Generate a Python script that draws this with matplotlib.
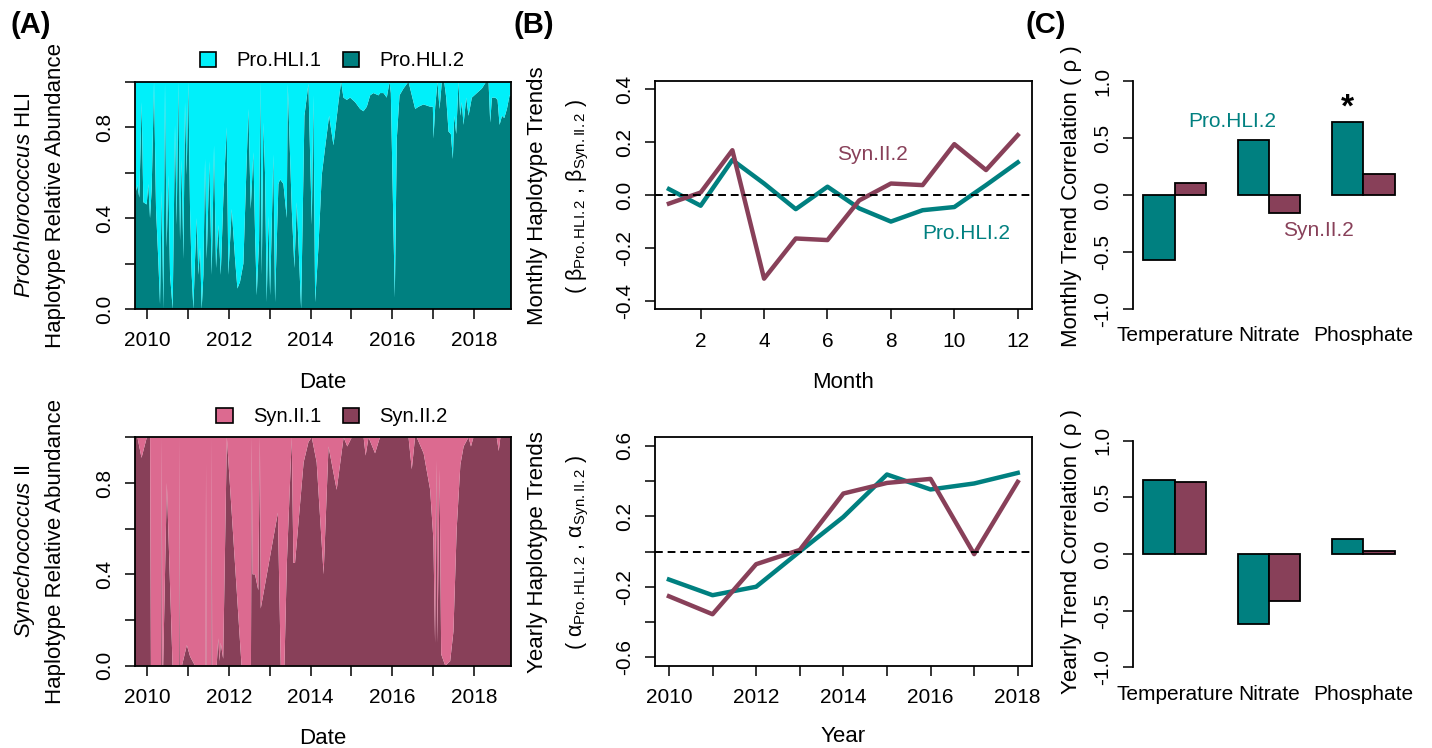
import matplotlib.pyplot as plt
from matplotlib.patches import Patch

plt.rcParams['font.family'] = ['Liberation Sans', 'DejaVu Sans']
plt.rcParams['mathtext.fontset'] = 'custom'
plt.rcParams['mathtext.rm'] = 'Liberation Sans'
plt.rcParams['mathtext.it'] = 'Liberation Sans:italic'
plt.rcParams['axes.unicode_minus'] = False

# ---- data ----
# panel A top: relative abundance of Pro.HLI.2 (Pro.HLI.1 = rest)
pro_dates = [2009.70, 2009.757, 2009.806, 2009.863, 2009.904, 2009.986, 2010.027, 2010.068, 2010.109, 2010.166,
             2010.215, 2010.272, 2010.313, 2010.354, 2010.394, 2010.435, 2010.476, 2010.517, 2010.558, 2010.623,
             2010.680, 2010.721, 2010.762, 2010.803, 2010.844, 2010.885, 2010.925, 2010.966, 2011.007, 2011.048,
             2011.089, 2011.130, 2011.171, 2011.212, 2011.252, 2011.293, 2011.334, 2011.375, 2011.416, 2011.457,
             2011.522, 2011.579, 2011.636, 2011.685, 2011.742, 2011.800, 2011.865, 2011.947, 2011.987, 2012.069,
             2012.151, 2012.208, 2012.273, 2012.355, 2012.437, 2012.478, 2012.535, 2012.600,
             2012.641, 2012.682, 2012.739, 2012.772, 2012.805, 2012.845, 2012.886, 2012.927, 2012.968, 2013.009,
             2013.090, 2013.131, 2013.213, 2013.254, 2013.336, 2013.417, 2013.442, 2013.540, 2013.605, 2013.662,
             2013.769, 2013.850, 2013.948, 2014.030, 2014.071, 2014.112, 2014.193, 2014.275, 2014.357, 2014.455,
             2014.561, 2014.684, 2014.749, 2014.806, 2014.888, 2014.970, 2015.092, 2015.215, 2015.296, 2015.378,
             2015.460, 2015.541, 2015.664,
             2015.705, 2015.787, 2015.868, 2015.934, 2015.967, 2016.015, 2016.064, 2016.113, 2016.179, 2016.277,
             2016.399, 2016.481, 2016.563, 2016.645, 2016.767, 2016.930, 2016.996, 2017.012, 2017.053, 2017.110,
             2017.159, 2017.216, 2017.274, 2017.323, 2017.380, 2017.437, 2017.486, 2017.519, 2017.568, 2017.625,
             2017.666, 2017.706, 2017.747, 2017.813, 2017.870, 2017.951, 2018.074, 2018.197, 2018.303, 2018.360,
             2018.401, 2018.442, 2018.524, 2018.581, 2018.630, 2018.690, 2018.745, 2018.810, 2018.875, 2018.91]
pro_hli2 = [0.50, 0.545, 0.49, 0.91, 0.47, 0.46, 0.55, 0.40, 0.53, 1.0,
            0.44, 0.21, 0.02, 0.52, 0.0, 0.99, 0.27, 0.59, 0.15, 0.0,
            0.81, 0.37, 1.0, 0.30, 0.66, 0.22, 0.91, 0.59, 1.0, 0.44,
            0.15, 0.0, 0.22, 0.40, 0.15, 0.27, 0.0, 0.15, 0.66, 0.22,
            0.65, 0.15, 0.72, 0.18, 0.37, 0.15, 0.49, 0.80, 0.15, 0.44,
            0.22, 0.09, 0.12, 0.20, 0.66, 0.88, 0.44, 0.69,
            0.33, 0.06, 0.30, 1.0, 0.15, 0.82, 0.59, 0.03, 0.41, 0.06,
            0.68, 0.03, 0.55, 0.57, 0.55, 0.40, 0.99, 0.44, 0.18, 0.47,
            0.0, 0.85, 0.99, 0.37, 0.94, 0.03, 0.27, 0.59, 0.71, 0.85,
            0.72, 0.91, 1.0, 0.93, 0.92, 0.93, 0.91, 0.88, 0.87, 0.89,
            0.94, 0.95, 0.94,
            0.95, 0.95, 0.93, 1.0, 0.95, 0.5, 0.05, 0.75, 0.94, 0.97,
            1.0, 0.94, 0.88, 0.89, 0.90, 0.89, 0.89, 0.75, 0.89, 1.0,
            0.88, 1.0, 1.0, 0.93, 0.78, 0.77, 0.66, 0.85, 0.77, 1.0,
            0.85, 0.91, 0.81, 0.93, 0.85, 0.93, 0.95, 0.97, 1.0, 1.0,
            0.82, 0.93, 0.93, 0.92, 0.81, 0.85, 0.84, 0.88, 0.94, 0.94]
pro_hli1 = [1 - v for v in pro_hli2]

# panel A bottom: relative abundance of Syn.II.2 (Syn.II.1 = rest)
syn_dates = [2009.70, 2009.76, 2009.86, 2009.99, 2010.07, 2010.09, 2010.34, 2010.355, 2010.37, 2010.39,
             2010.48, 2010.62, 2010.78, 2010.79, 2010.80, 2010.85, 2010.97, 2011.05, 2011.17, 2011.43,
             2011.44, 2011.45, 2011.57, 2011.58, 2011.59, 2011.70, 2011.74, 2011.77, 2011.80, 2011.86,
             2011.95, 2012.31, 2012.54, 2012.56, 2012.58, 2012.64, 2012.72, 2012.76, 2012.78, 2012.89,
             2013.20, 2013.27, 2013.36, 2013.42, 2013.54, 2013.58, 2013.62, 2013.83, 2013.95, 2014.03,
             2014.15, 2014.32, 2014.44, 2014.64, 2014.81, 2014.90, 2015.01, 2015.30, 2015.35, 2015.42,
             2015.58, 2015.70, 2016.40, 2016.48, 2016.56, 2016.60, 2016.77, 2016.93, 2017.01, 2017.05,
             2017.08, 2017.11, 2017.16, 2017.20, 2017.30, 2017.42, 2017.50, 2017.58, 2017.67, 2017.75,
             2017.87, 2017.93, 2017.99, 2018.56, 2018.61, 2018.65, 2018.91]
syn_ii2 = [1.0, 1.0, 0.91, 1.0, 1.0, 0.0, 0.0, 1.0, 0.0, 0.0,
           0.80, 0.0, 0.0, 1.0, 0.0, 0.0, 0.09, 0.04, 0.0, 0.0,
           0.89, 0.0, 0.0, 1.0, 0.0, 0.0, 0.12, 0.02, 0.10, 0.03,
           1.0, 0.0, 0.0, 1.0, 0.40, 0.40, 0.33, 1.0, 0.25, 0.36,
           0.67, 0.0, 0.0, 0.45, 1.0, 0.45, 0.45, 0.89, 0.98, 1.0,
           0.89, 0.40, 0.96, 0.77, 1.0, 0.96, 1.0, 1.0, 0.92, 1.0,
           0.93, 1.0, 1.0, 0.86, 1.0, 1.0, 0.93, 0.77, 0.55, 0.10,
           0.90, 0.10, 0.86, 0.05, 0.0, 0.02, 0.15, 0.60, 0.88, 0.96,
           1.0, 0.96, 1.0, 1.0, 0.94, 1.0, 1.0]
syn_ii1 = [1 - v for v in syn_ii2]

# panel B
months = [1, 2, 3, 4, 5, 6, 7, 8, 9, 10, 11, 12]
beta_pro = [0.023, -0.04, 0.133, 0.044, -0.053, 0.032, -0.05, -0.10, -0.057, -0.045, 0.038, 0.124]
beta_syn = [-0.032, 0.01, 0.17, -0.316, -0.164, -0.17, -0.02, 0.044, 0.038, 0.193, 0.095, 0.227]
years = [2010, 2011, 2012, 2013, 2014, 2015, 2016, 2017, 2018]
alpha_pro = [-0.159, -0.248, -0.20, 0.0, 0.196, 0.437, 0.352, 0.386, 0.446]
alpha_syn = [-0.254, -0.356, -0.072, 0.009, 0.329, 0.389, 0.412, -0.015, 0.395]

# panel C
variables = ['Temperature', 'Nitrate', 'Phosphate']
rho_month_pro = [-0.567, 0.48, 0.644]
rho_month_syn = [0.105, -0.158, 0.188]
rho_year_pro = [0.653, -0.62, 0.132]
rho_year_syn = [0.633, -0.415, 0.024]

cyan = '#00F0FA'
teal = '#008080'
pink = '#DC6A90'
maroon = '#884059'

W, H = 1432, 748
fig = plt.figure(figsize=(W / 100, H / 100), dpi=100)


def add_ax(l, t, r, b):
    return fig.add_axes([l / W, 1 - b / H, (r - l) / W, (b - t) / H])


def style(ax):
    for s in ax.spines.values():
        s.set_linewidth(1.3)
    ax.tick_params(direction='out', length=7.5, width=1.1, labelsize=15, pad=8.5, colors='black')
    ax.tick_params(axis='y', pad=7.5)


def ylab(x, y, s, size=16):
    fig.text(x / W, 1 - y / H, s, rotation=90, ha='center', va='center', fontsize=size)


yr_ticks = list(range(2010, 2019))
yr_labels = [str(y) if y % 2 == 0 else '' for y in yr_ticks]

# ---- (A) stacked relative abundance ----
for top, bot, dates, lower, upper, c_low, c_up, names, leg_y, lab1 in [
        (81.7, 309, pro_dates, pro_hli2, pro_hli1, teal, cyan, ['Pro.HLI.1', 'Pro.HLI.2'], 61,
         r'$\it{Prochlorococcus}$ HLI'),
        (437.3, 665.7, syn_dates, syn_ii2, syn_ii1, maroon, pink, ['Syn.II.1', 'Syn.II.2'], 417,
         r'$\it{Synechococcus}$ II')]:
    ax = add_ax(135, top, 511, bot)
    ax.stackplot(dates, lower, upper, colors=[c_low, c_up], linewidth=0)
    ax.set_xlim(2009.70, 2018.91)
    ax.set_ylim(0, 1)
    ax.set_xticks(yr_ticks, yr_labels)
    ax.set_yticks([0, 0.2, 0.4, 0.6, 0.8, 1.0], ['0.0', '', '0.4', '', '0.8', ''], rotation=90, va='center')
    style(ax)
    handles = [Patch(facecolor=c_up, edgecolor='black', lw=1.2), Patch(facecolor=c_low, edgecolor='black', lw=1.2)]
    ax.legend(handles, names, ncol=2, loc='center', bbox_to_anchor=(332 / W, 1 - leg_y / H),
              bbox_transform=fig.transFigure, frameon=False, fontsize=14.5, handlelength=0.8,
              handleheight=0.8, handletextpad=1.0, columnspacing=1.1)
    mid = (top + bot) / 2
    ylab(25, mid, lab1)
    ylab(56, mid, 'Haplotype Relative Abundance')
    fig.text(323 / W, 1 - (bot + 73) / H, 'Date', ha='center', va='center', fontsize=16)

# ---- (B) monthly / yearly trends ----
ax = add_ax(655, 81, 1031.7, 309.3)
ax.plot(months, beta_pro, color=teal, lw=3.2)
ax.plot(months, beta_syn, color=maroon, lw=3.2)
ax.axhline(0, color='black', ls=(0, (4, 2.5)), lw=1.4)
ax.set_xlim(0.56, 12.44)
ax.set_ylim(-0.432, 0.432)
ax.set_xticks([2, 4, 6, 8, 10, 12])
ax.set_yticks([-0.4, -0.2, 0, 0.2, 0.4], ['-0.4', '-0.2', '0.0', '0.2', '0.4'], rotation=90, va='center')
style(ax)
ax.text(7.43, 0.152, 'Syn.II.2', color=maroon, fontsize=15, ha='center', va='center')
ax.text(10.37, -0.144, 'Pro.HLI.2', color=teal, fontsize=15, ha='center', va='center')
ylab(537, 196, 'Monthly Haplotype Trends')
ylab(578, 196, r'( $\mathrm{\beta}_{\mathrm{Pro.HLI.2}}$ , $\mathrm{\beta}_{\mathrm{Syn.II.2}}$ )', size=15.5)
fig.text(843 / W, 1 - 382 / H, 'Month', ha='center', va='center', fontsize=16)

ax = add_ax(655, 437.3, 1031.7, 665.7)
ax.plot(years, alpha_pro, color=teal, lw=3.2)
ax.plot(years, alpha_syn, color=maroon, lw=3.2)
ax.axhline(0, color='black', ls=(0, (4, 2.5)), lw=1.4)
ax.set_xlim(2009.68, 2018.32)
ax.set_ylim(-0.648, 0.648)
ax.set_xticks(yr_ticks, yr_labels)
ax.set_yticks([-0.6, -0.4, -0.2, 0, 0.2, 0.4, 0.6], ['-0.6', '', '-0.2', '', '0.2', '', '0.6'],
              rotation=90, va='center')
style(ax)
ylab(537, 552, 'Yearly Haplotype Trends')
ylab(578, 552, r'( $\mathrm{\alpha}_{\mathrm{Pro.HLI.2}}$ , $\mathrm{\alpha}_{\mathrm{Syn.II.2}}$ )', size=15.5)
fig.text(843 / W, 1 - 737 / H, 'Year', ha='center', va='center', fontsize=16)

# ---- (C) correlations with environment ----
centers = [2 + 3 * i for i in range(len(variables))]
for top, bot, pro, syn, lab, mid in [(71.9, 318.1, rho_month_pro, rho_month_syn, 'Monthly Trend Correlation ( ρ )', 196),
                                     (431.6, 676.4, rho_year_pro, rho_year_syn, 'Yearly Trend Correlation ( ρ )', 552)]:
    ax = add_ax(1133.3, top, 1404.6, bot)
    ax.bar([c - 0.5 for c in centers], pro, width=1, color=teal, edgecolor='black', lw=1.3)
    ax.bar([c + 0.5 for c in centers], syn, width=1, color=maroon, edgecolor='black', lw=1.3)
    ax.set_xlim(0.68, 9.32)
    ax.set_ylim(-1.08, 1.08)
    for s in ['top', 'right', 'bottom']:
        ax.spines[s].set_visible(False)
    ax.spines['left'].set_bounds(-1, 1)
    ax.set_yticks([-1, -0.5, 0, 0.5, 1], ['-1.0', '-0.5', '0.0', '0.5', '1.0'], rotation=90, va='center')
    ax.set_xticks(centers, variables)
    style(ax)
    ax.tick_params(axis='x', length=0, pad=6)
    ylab(1072, mid, lab)
    if top < 100:
        ax.text(3.82, 0.646, 'Pro.HLI.2', color=teal, fontsize=15, ha='center', va='center')
        ax.text(6.56, -0.31, 'Syn.II.2', color=maroon, fontsize=15, ha='center', va='center')
        ax.text(centers[2] - 0.5, 0.76, '*', fontsize=24, fontweight='bold', ha='center', va='center')

# panel letters
for x, s in [(31, '(A)'), (534, '(B)'), (1046, '(C)')]:
    fig.text(x / W, 1 - 25 / H, s, ha='center', va='center', fontsize=21, fontweight='bold')

fig.savefig('out.png', dpi=100)
